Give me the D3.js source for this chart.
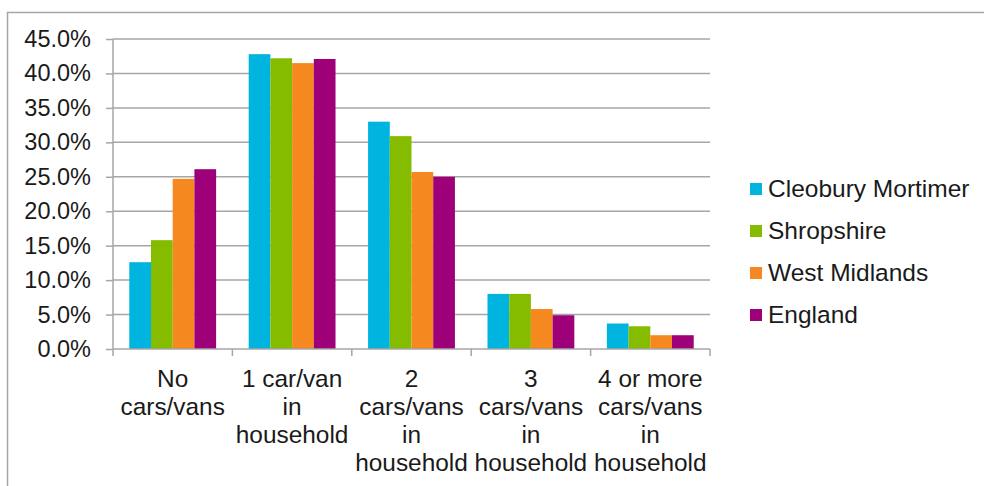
<!DOCTYPE html>
<html>
<head>
<meta charset="utf-8">
<script src="https://cdn.jsdelivr.net/npm/d3@7"></script>
<style>
  html, body { margin: 0; padding: 0; background: #fff; }
  svg { display: block; font-family: "Liberation Sans", Arial, sans-serif; }
</style>
</head>
<body>
<svg id="chart" width="984" height="486"></svg>
<script>
// Car / van availability per household, share of households
const categories = [
  ["No", "cars/vans"],
  ["1 car/van", "in", "household"],
  ["2", "cars/vans", "in", "household"],
  ["3", "cars/vans", "in", "household"],
  ["4 or more", "cars/vans", "in", "household"]
];
const seriesNames = ["Cleobury Mortimer", "Shropshire", "West Midlands", "England"];
const seriesColors = ["#00b4e0", "#86bc00", "#f5891f", "#9e007a"];
const cleoburyMortimer = [12.6, 42.8, 33.0, 8.0, 3.7];
const shropshire      = [15.8, 42.2, 30.9, 8.0, 3.3];
const westMidlands    = [24.7, 41.5, 25.7, 5.8, 2.0];
const england         = [26.1, 42.1, 25.0, 4.9, 2.0];
const seriesValues = [cleoburyMortimer, shropshire, westMidlands, england];
const yTicks = [0, 5, 10, 15, 20, 25, 30, 35, 40, 45];

const svg = d3.select("#chart");
const margin = { left: 113, right: 274, top: 39, bottom: 137 };
const W = 984, H = 486;
const plotW = W - margin.left - margin.right;
const plotH = H - margin.top - margin.bottom;

// outer chart frame
svg.append("rect")
  .attr("x", 7.5).attr("y", 12.5)
  .attr("width", 990).attr("height", 500)
  .attr("fill", "none").attr("stroke", "#a6a6a6").attr("stroke-width", 1.5);

const g = svg.append("g").attr("transform", `translate(${margin.left},${margin.top})`);

const idx = d3.range(categories.length);
const x0 = d3.scaleBand().domain(idx).range([0, plotW])
  .paddingInner(1.5 / 5.5).paddingOuter(0.75 / 5.5);
const x1 = d3.scaleBand().domain(d3.range(seriesNames.length)).range([0, x0.bandwidth()]);
const y = d3.scaleLinear().domain([0, 45]).range([plotH, 0]);

// horizontal gridlines
g.append("g").selectAll("line").data(yTicks.filter(t => t > 0)).join("line")
  .attr("x1", 0).attr("x2", plotW)
  .attr("y1", d => y(d)).attr("y2", d => y(d))
  .attr("stroke", "#a6a6a6").attr("stroke-width", 1.5);

// bars
idx.forEach(i => {
  g.append("g").attr("transform", `translate(${x0(i)},0)`)
    .selectAll("rect").data(seriesValues.map((s, k) => ({ k, v: s[i] }))).join("rect")
    .attr("x", d => x1(d.k)).attr("width", x1.bandwidth())
    .attr("y", d => y(d.v)).attr("height", d => plotH - y(d.v))
    .attr("fill", d => seriesColors[d.k]);
});

// y axis
const yAxis = g.append("g")
  .call(d3.axisLeft(y).tickValues(yTicks).tickFormat(d => d.toFixed(1) + "%").tickSize(7).tickPadding(15));
yAxis.select(".domain").attr("stroke", "#a6a6a6").attr("stroke-width", 1.5).attr("d", `M0,${plotH}V0`);
yAxis.selectAll(".tick line").attr("stroke", "#a6a6a6").attr("stroke-width", 1.5);
yAxis.selectAll("text").attr("fill", "#1a1a1a").style("font-size", "23.5px")
  .style("font-family", '"Liberation Sans", Arial, sans-serif');

// x axis baseline and category separators
const xb = g.append("g").attr("transform", `translate(0,${plotH})`);
xb.append("line").attr("x1", 0).attr("x2", plotW)
  .attr("stroke", "#a6a6a6").attr("stroke-width", 1.5);
const step = x0.step();
xb.selectAll("line.sep").data(d3.range(categories.length + 1)).join("line")
  .attr("class", "sep")
  .attr("x1", d => d * step).attr("x2", d => d * step)
  .attr("y1", 0).attr("y2", 7)
  .attr("stroke", "#a6a6a6").attr("stroke-width", 1.5);

// category labels, wrapped onto several lines
idx.forEach(i => {
  const cx = x0(i) + x0.bandwidth() / 2;
  const t = xb.append("text")
    .attr("x", cx)
    .attr("text-anchor", "middle")
    .attr("fill", "#1a1a1a")
    .style("font-size", "24.4px");
  categories[i].forEach((line, j) => {
    t.append("tspan").attr("x", cx).attr("y", 37.7 + j * 28.1).text(line);
  });
});

// legend
const legend = svg.append("g").attr("transform", "translate(750,189)");
seriesNames.forEach((name, k) => {
  const row = legend.append("g").attr("transform", `translate(0,${k * 42})`);
  row.append("rect").attr("x", 0).attr("y", -6).attr("width", 12).attr("height", 12)
    .attr("fill", seriesColors[k]);
  row.append("text").attr("x", 18).attr("y", 8).attr("fill", "#1a1a1a")
    .style("font-size", "24.5px").text(name);
});
</script>
</body>
</html>
